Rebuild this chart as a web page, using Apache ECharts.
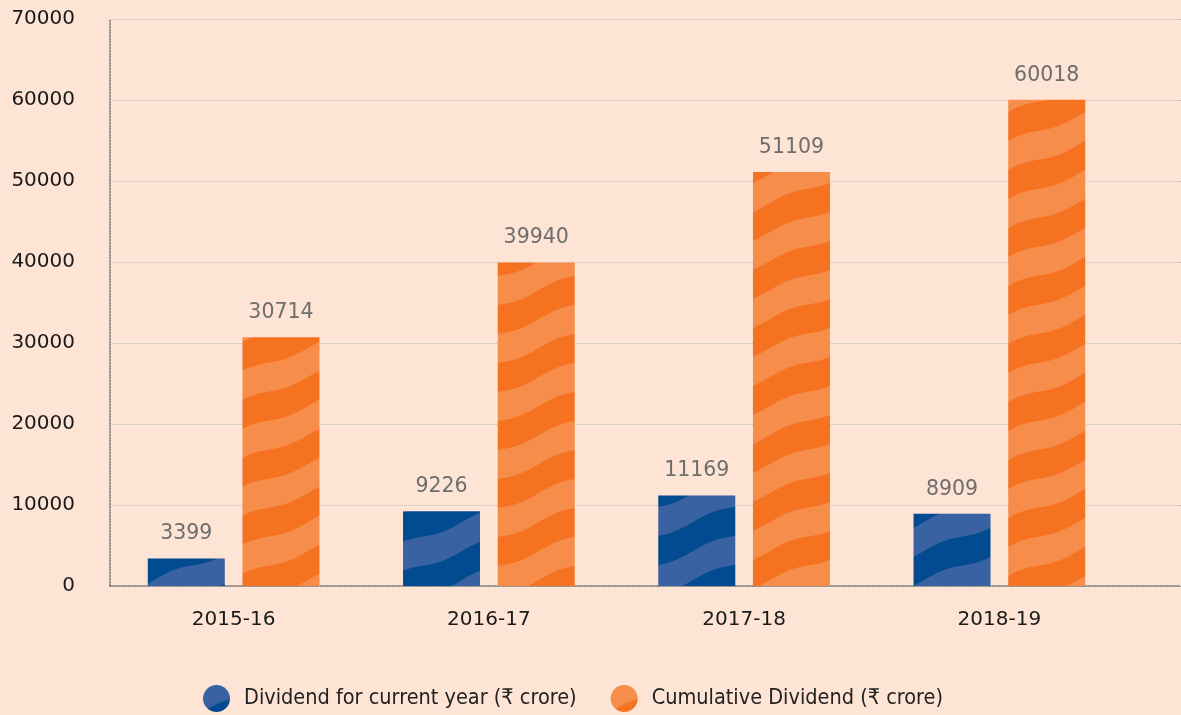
<!DOCTYPE html>
<html>
<head>
<meta charset="utf-8">
<script src="https://cdn.jsdelivr.net/npm/echarts@6/dist/echarts.min.js"></script>
<style>
  html, body { margin: 0; padding: 0; background: #fee4d5; }
  #chart { width: 1181px; height: 715px; }
</style>
</head>
<body>
<div id="chart"></div>
<script>
const years = ['2015-16', '2016-17', '2017-18', '2018-19'];
const currentDividend = [3399, 9226, 11169, 8909];
const cumulativeDividend = [30714, 39940, 51109, 60018];
const seriesNames = ['Dividend for current year (₹ crore)', 'Cumulative Dividend (₹ crore)'];

// wavy diagonal stripes like the printed chart
function stripes(dark, light) {
  const W = 154, H = 58;
  const c = document.createElement('canvas');
  c.width = W; c.height = H;
  const ctx = c.getContext('2d');
  ctx.fillStyle = dark;
  ctx.fillRect(0, 0, W, H);
  ctx.fillStyle = light;
  const edge = x => H - H * x / W - 2.5 * Math.sin(2 * Math.PI * x / 77);
  for (let k = -2; k <= 1; k++) {
    ctx.beginPath();
    for (let x = 0; x <= W; x++) ctx.lineTo(x, edge(x) + k * H);
    for (let x = W; x >= 0; x--) ctx.lineTo(x, edge(x) + k * H + H / 2);
    ctx.closePath();
    ctx.fill();
  }
  return { image: c, repeat: 'repeat' };
}

const blue = stripes('#034b91', '#3862a2');
const orange = stripes('#f47220', '#f78d4b');
const dotted = { color: '#777', type: 'dotted', width: 1.5 };

const chart = echarts.init(document.getElementById('chart'));
chart.setOption({
  backgroundColor: '#fee4d5',
  textStyle: { fontFamily: 'DejaVu Sans' },
  grid: [
    { left: 106, right: 54, top: 19, bottom: 129 },
    // full-width grid: gridlines and axis line run to the right edge
    { left: 110, right: 0, top: 19, bottom: 129 }
  ],
  legend: {
    top: 680,
    left: 198,
    icon: 'circle',
    itemWidth: 27,
    itemHeight: 32,
    itemGap: 34,
    textStyle: { fontFamily: 'DejaVu Sans Condensed', fontSize: 21.5, color: '#222', padding: [0, 0, 0, 9] },
    data: seriesNames
  },
  xAxis: [
    {
      type: 'category',
      gridIndex: 0,
      data: years,
      axisLine: { show: false },
      axisTick: { show: false },
      axisLabel: { fontSize: 20, color: '#1a1a1a', margin: 24 }
    },
    {
      type: 'value',
      gridIndex: 1,
      axisLine: { show: true, lineStyle: dotted },
      axisTick: { show: false },
      axisLabel: { show: false },
      splitLine: { show: false }
    }
  ],
  yAxis: [
    {
      type: 'value',
      gridIndex: 0,
      min: 0,
      max: 70000,
      interval: 10000,
      axisLine: { show: false },
      axisTick: { show: false },
      axisLabel: { fontSize: 20, color: '#1a1a1a', margin: 31, formatter: v => String(v) },
      splitLine: { show: false }
    },
    {
      type: 'value',
      gridIndex: 1,
      min: 0,
      max: 70000,
      interval: 10000,
      axisLine: { show: true, lineStyle: dotted },
      axisTick: { show: false },
      axisLabel: { show: false },
      splitLine: { lineStyle: { color: '#c4bbb3', type: 'dotted', width: 1 } }
    }
  ],
  series: [
    {
      name: seriesNames[0],
      type: 'bar',
      data: currentDividend,
      barWidth: 77,
      barGap: '23%',
      z: 3,
      itemStyle: { color: blue },
      label: { show: true, position: 'top', distance: 14, fontSize: 20.5, color: '#6e6e6e' }
    },
    {
      name: seriesNames[1],
      type: 'bar',
      data: cumulativeDividend,
      barWidth: 77,
      z: 3,
      itemStyle: { color: orange },
      label: { show: true, position: 'top', distance: 14, fontSize: 20.5, color: '#6e6e6e' }
    }
  ]
});
</script>
</body>
</html>
